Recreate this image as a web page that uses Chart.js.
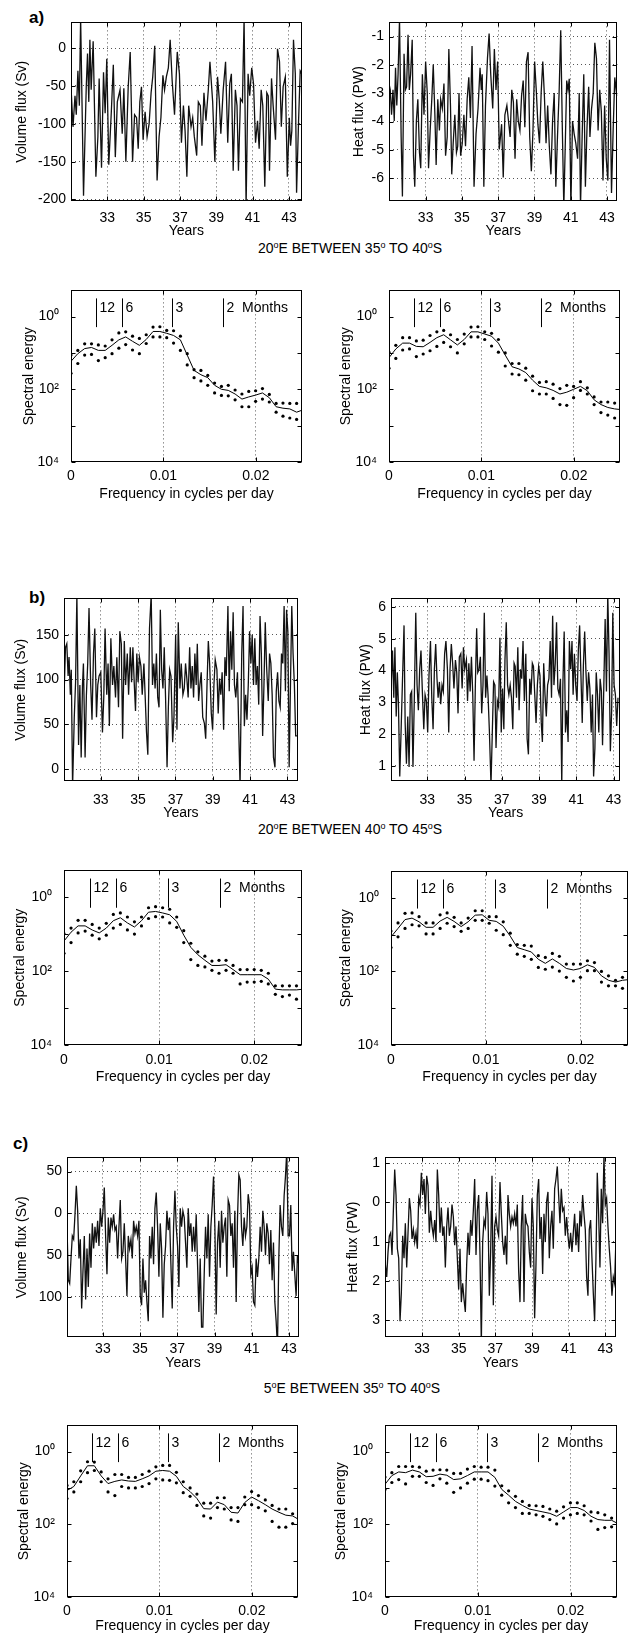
<!DOCTYPE html>
<html><head><meta charset="utf-8">
<script src="https://cdn.jsdelivr.net/npm/chart.js@4.4.1/dist/chart.umd.min.js"></script>
<style>
html,body{margin:0;padding:0;background:#fff;}
body{position:relative;width:632px;height:1635px;overflow:hidden;font-family:'Liberation Sans',Arial,Helvetica,sans-serif;color:#000;}
canvas{position:absolute;}
.tag{position:absolute;font-weight:bold;font-size:17px;line-height:20px;}
.ttl{position:absolute;font-size:14px;line-height:16px;white-space:nowrap;transform:translateX(-50%);}
.ttl sup{font-size:9px;line-height:0;vertical-align:5px;}
</style></head><body>
<div class="tag" style="left:29px;top:8px">a)</div>
<div class="ttl" style="left:350px;top:240px">20<sup>o</sup>E BETWEEN 35<sup>o</sup> TO 40<sup>o</sup>S</div>
<div class="tag" style="left:29px;top:588px">b)</div>
<div class="ttl" style="left:350px;top:821px">20<sup>o</sup>E BETWEEN 40<sup>o</sup> TO 45<sup>o</sup>S</div>
<div class="tag" style="left:13px;top:1134px">c)</div>
<div class="ttl" style="left:352px;top:1380px">5<sup>o</sup>E BETWEEN 35<sup>o</sup> TO 40<sup>o</sup>S</div>
<script>
// ================= DATA =================
const yearTicks = [33,35,37,39,41,43];
const yearLabels = ['33','35','37','39','41','43'];
const freqTicks = [0,0.01,0.02];
const freqLabels = ['0','0.01','0.02'];
const specTicks = [-4,-3,-2,-1,0];            // log10 of spectral energy
const specLabels = ['10⁴','','10²','','10⁰'];
const periodMonths = [12,6,3,2];
const periodLabels = ['12','6','3','2  Months'];
const freqs = [0,0.00074,0.00148,0.00222,0.00296,0.0037,0.00444,0.00518,0.00592,0.00666,0.0074,0.00814,0.00888,0.00962,0.01036,0.0111,0.01184,0.01258,0.01332,0.01406,0.0148,0.01554,0.01628,0.01702,0.01776,0.0185,0.01924,0.01998,0.02072,0.02146,0.0222,0.02294,0.02368,0.02442,0.02516];

// --- a) volume flux
const aVolTicks = [-200,-150,-100,-50,0];
const aVolTickLabels = ['-200','-150','-100','-50','0'];
const aVolYears = [31.00,31.11,31.22,31.29,31.38,31.46,31.53,31.69,31.84,31.91,31.98,32.04,32.11,32.22,32.37,32.48,32.55,32.68,32.79,32.88,32.97,33.08,33.22,33.33,33.44,33.55,33.70,33.82,33.91,34.02,34.15,34.26,34.39,34.50,34.61,34.70,34.79,34.88,34.97,35.08,35.19,35.30,35.41,35.50,35.61,35.74,35.85,35.95,36.06,36.15,36.25,36.36,36.46,36.57,36.70,36.85,36.97,37.08,37.19,37.28,37.38,37.48,37.61,37.70,37.79,37.92,38.01,38.12,38.21,38.32,38.43,38.56,38.65,38.80,38.92,39.07,39.16,39.25,39.38,39.51,39.63,39.74,39.83,39.93,40.05,40.14,40.22,40.33,40.44,40.53,40.64,40.75,40.84,40.95,41.05,41.16,41.27,41.36,41.47,41.56,41.67,41.78,41.86,41.93,42.04,42.13,42.26,42.37,42.48,42.58,42.68,42.80,42.91,43.02,43.09,43.16,43.25,43.35,43.42,43.53,43.62,43.71];
const aVolFlux = [-51,-104,-63,-88,-30,-76,40,-195,-51,-7,-71,11,-55,9,-170,-117,-40,-158,-32,-86,-14,-154,-84,-22,-144,-71,-55,-113,-53,-150,-51,-5,-150,-88,-92,-133,-71,-51,-121,-84,-117,-100,-59,-38,3,-175,-117,-92,-36,-55,-38,-26,11,-43,-88,-5,-34,-125,-76,-109,-170,-76,-104,-92,-117,-142,-71,-76,-129,-59,-96,-55,-18,-71,-150,-38,-67,-113,-55,-18,-125,-47,-34,-162,-55,-76,-162,-67,-71,40,-210,-34,-63,-26,-47,-125,-96,-133,-55,-76,-183,-59,-63,-162,-40,-76,-121,-1,-18,-104,-51,-38,-170,-92,-129,-109,11,-34,-191,-96,-30,-34];

// --- a) heat flux
const aHeatTicks = [-6,-5,-4,-3,-2,-1];
const aHeatTickLabels = ['-6','-5','-4','-3','-2','-1'];
const aHeatYears = [30.98,31.05,31.12,31.20,31.27,31.34,31.41,31.48,31.56,31.65,31.72,31.81,31.88,31.95,32.03,32.10,32.17,32.26,32.33,32.40,32.49,32.57,32.66,32.73,32.82,32.91,33.00,33.09,33.16,33.25,33.34,33.42,33.51,33.58,33.67,33.76,33.83,33.92,34.01,34.10,34.19,34.28,34.37,34.44,34.52,34.61,34.70,34.77,34.84,34.93,35.02,35.11,35.20,35.29,35.38,35.47,35.56,35.67,35.78,35.89,36.00,36.07,36.12,36.21,36.30,36.41,36.50,36.59,36.70,36.79,36.88,36.97,37.06,37.19,37.28,37.37,37.48,37.57,37.66,37.75,37.84,37.93,38.02,38.11,38.20,38.29,38.38,38.47,38.56,38.65,38.74,38.83,38.92,39.01,39.10,39.19,39.28,39.37,39.46,39.55,39.64,39.73,39.82,39.91,40.00,40.09,40.18,40.27,40.36,40.45,40.54,40.62,40.71,40.78,40.85,40.92,41.01,41.10,41.19,41.28,41.38,41.47,41.54,41.63,41.72,41.81,41.90,41.99,42.06,42.15,42.24,42.33,42.42,42.51,42.60,42.69,42.78,42.87,42.96,43.05,43.14,43.25,43.34,43.43,43.54];
const aHeatFlux = [-2.66,-2.88,-3.76,-2.88,-3.98,-2.10,-3.43,-2.33,-0.4,-4.54,-6.64,-1.61,-2.88,-2.77,-0.94,-2.88,-2.33,-1.11,-5.20,-6.30,-3.98,-3.21,-5.09,-5.64,-2.33,-3.76,-1.88,-2.99,-5.64,-4.31,-3.21,-1.99,-3.76,-5.53,-3.21,-4.31,-3.21,-3.54,-2.66,-5.20,-4.54,-1.44,-3.43,-5.86,-4.76,-3.76,-5.09,-4.87,-2.99,-5.20,-4.76,-3.76,-4.87,-3.21,-2.44,-3.87,-1.33,-6.30,-4.43,-3.54,-2.10,-2.88,-2.33,-6.30,-3.43,-1.77,-0.89,-2.33,-3.54,-1.44,-2.88,-1.88,-4.98,-4.09,-5.97,-3.76,-3.43,-3.98,-4.54,-2.88,-3.32,-5.31,-3.21,-3.98,-4.31,-3.10,-2.55,-4.20,-1.88,-1.55,-4.54,-5.75,-4.31,-1.88,-2.88,-4.09,-4.76,-2.99,-1.88,-3.10,-4.76,-3.43,-4.87,-5.86,-3.98,-2.99,-6.30,-4.54,-2.99,-0.78,-4.31,-7.0,-4.54,-2.55,-2.88,-2.49,-7.0,-3.98,-4.43,-4.76,-5.31,-2.99,-7.0,-4.54,-2.33,-6.30,-4.20,-2.77,-4.54,-3.54,-2.99,-1.22,-1.77,-4.31,-2.88,-3.65,-6.08,-3.43,-5.31,-6.08,-1.11,-6.52,-4.31,-2.44,-3.10];

// --- a) spectra (log10 energy)
const aVolUp  = [-1.06,-0.93,-0.75,-0.75,-0.78,-0.81,-0.64,-0.45,-0.42,-0.54,-0.60,-0.50,-0.29,-0.28,-0.38,-0.39,-0.54,-1.02,-1.46,-1.48,-1.62,-1.83,-1.92,-1.89,-2.02,-2.13,-2.06,-2.04,-1.98,-2.14,-2.39,-2.38,-2.39,-2.39,-2.43];
const aVolMid = [-1.23,-1.02,-0.88,-0.85,-0.93,-0.93,-0.79,-0.64,-0.56,-0.68,-0.79,-0.63,-0.41,-0.41,-0.46,-0.52,-0.64,-1.06,-1.48,-1.60,-1.68,-1.89,-2.00,-2.03,-2.13,-2.27,-2.21,-2.16,-2.10,-2.23,-2.48,-2.52,-2.54,-2.63,-2.56];
const aVolLo  = [-1.56,-1.29,-1.06,-1.04,-1.21,-1.13,-1.02,-0.87,-0.77,-0.92,-1.02,-0.74,-0.56,-0.56,-0.58,-0.73,-0.93,-1.33,-1.68,-1.77,-1.89,-2.10,-2.17,-2.18,-2.29,-2.48,-2.48,-2.33,-2.27,-2.35,-2.63,-2.74,-2.79,-2.83,-2.83];
const aHeatUp  = [-0.98,-0.79,-0.58,-0.58,-0.67,-0.65,-0.52,-0.42,-0.38,-0.50,-0.63,-0.48,-0.29,-0.28,-0.42,-0.46,-0.63,-1.00,-1.29,-1.29,-1.42,-1.64,-1.81,-1.79,-1.86,-1.98,-1.89,-1.92,-1.79,-1.96,-2.21,-2.35,-2.35,-2.38,-2.38];
const aHeatMid = [-1.13,-0.89,-0.73,-0.73,-0.82,-0.83,-0.71,-0.58,-0.50,-0.64,-0.78,-0.63,-0.42,-0.42,-0.48,-0.54,-0.73,-1.06,-1.38,-1.44,-1.54,-1.75,-1.92,-1.96,-2.03,-2.13,-2.08,-2.00,-1.92,-2.04,-2.29,-2.42,-2.50,-2.54,-2.56];
const aHeatLo  = [-1.42,-1.15,-0.92,-0.89,-1.10,-1.03,-0.94,-0.82,-0.71,-0.83,-1.00,-0.75,-0.56,-0.56,-0.63,-0.81,-0.98,-1.36,-1.58,-1.60,-1.75,-2.04,-2.13,-2.13,-2.25,-2.42,-2.44,-2.23,-2.03,-2.13,-2.42,-2.64,-2.71,-2.79,-2.82];

// --- b) volume flux
const bVolTicks = [0,50,100,150];
const bVolTickLabels = ['0','50','100','150'];
const bVolYears = [31.04,31.11,31.18,31.25,31.30,31.37,31.42,31.49,31.58,31.65,31.72,31.81,31.88,31.95,32.02,32.07,32.16,32.23,32.30,32.37,32.46,32.53,32.61,32.68,32.77,32.84,32.91,33.00,33.09,33.16,33.23,33.32,33.39,33.46,33.54,33.63,33.70,33.79,33.86,33.95,34.02,34.10,34.17,34.26,34.33,34.42,34.49,34.58,34.65,34.72,34.79,34.86,34.93,35.00,35.07,35.15,35.22,35.31,35.38,35.45,35.52,35.61,35.70,35.77,35.84,35.91,35.98,36.05,36.12,36.19,36.26,36.33,36.40,36.47,36.55,36.62,36.69,36.76,36.85,36.92,37.01,37.08,37.15,37.24,37.31,37.40,37.47,37.54,37.61,37.68,37.76,37.83,37.90,37.97,38.04,38.11,38.17,38.24,38.31,38.38,38.46,38.55,38.62,38.69,38.76,38.83,38.92,38.99,39.06,39.13,39.22,39.29,39.36,39.43,39.50,39.58,39.65,39.72,39.81,39.88,39.95,40.02,40.09,40.16,40.23,40.32,40.39,40.46,40.55,40.62,40.69,40.76,40.83,40.90,40.97,41.04,41.11,41.18,41.25,41.32,41.39,41.46,41.53,41.60,41.67,41.74,41.81,41.88,41.97,42.04,42.11,42.18,42.25,42.33,42.40,42.47,42.54,42.61,42.68,42.75,42.82,42.89,42.95,43.02,43.09,43.16,43.23,43.30,43.37,43.44,43.51,43.56];
const bVolFlux = [87,136,140,104,125,83,111,-20,58,97,195,27,94,13,94,118,13,83,118,180,94,55,129,157,58,94,104,108,41,80,157,83,118,48,146,94,115,80,125,69,154,140,34,143,94,129,83,136,97,136,97,65,129,97,125,115,83,118,80,41,16,157,195,94,118,90,129,80,69,178,111,90,136,80,2,69,111,104,30,58,150,44,164,90,118,83,90,118,101,80,136,90,115,80,129,94,140,76,94,108,58,51,34,94,143,118,62,44,94,122,111,62,101,83,108,44,125,104,182,87,154,111,175,94,80,108,44,-20,129,182,48,83,55,94,154,118,150,94,146,94,115,72,171,129,37,94,164,115,76,129,118,83,13,2,87,108,76,69,129,118,182,87,178,154,2,94,182,129,94,37,37,97];

// --- b) heat flux
const bHeatTicks = [1,2,3,4,5,6];
const bHeatTickLabels = ['1','2','3','4','5','6'];
const bHeatYears = [31.06,31.13,31.20,31.26,31.33,31.39,31.45,31.52,31.59,31.66,31.75,31.81,31.88,31.95,32.02,32.09,32.16,32.23,32.30,32.38,32.45,32.52,32.59,32.66,32.74,32.81,32.88,32.95,33.02,33.09,33.17,33.24,33.31,33.38,33.45,33.52,33.58,33.65,33.72,33.79,33.86,33.93,34.00,34.08,34.15,34.22,34.29,34.36,34.43,34.51,34.58,34.65,34.72,34.80,34.87,34.94,35.01,35.10,35.16,35.23,35.30,35.37,35.44,35.51,35.58,35.65,35.71,35.78,35.85,35.92,35.99,36.06,36.13,36.20,36.26,36.33,36.42,36.49,36.56,36.63,36.69,36.76,36.83,36.90,36.97,37.04,37.11,37.17,37.24,37.31,37.38,37.45,37.52,37.59,37.66,37.72,37.79,37.86,37.93,38.00,38.07,38.14,38.21,38.29,38.36,38.43,38.50,38.57,38.64,38.70,38.77,38.84,38.91,38.98,39.05,39.12,39.18,39.25,39.32,39.39,39.46,39.53,39.60,39.67,39.73,39.80,39.87,39.94,40.01,40.08,40.15,40.22,40.28,40.35,40.42,40.49,40.56,40.63,40.70,40.77,40.83,40.90,40.97,41.04,41.11,41.18,41.25,41.32,41.38,41.45,41.52,41.59,41.66,41.73,41.80,41.87,41.93,42.00,42.07,42.14,42.21,42.28,42.35,42.41,42.48,42.55,42.62,42.69,42.76,42.83,42.90,42.96,43.03,43.10,43.17,43.24];
const bHeatFlux = [3.54,4.63,3.14,4.73,2.55,3.94,2.94,0.66,2.05,3.54,5.42,2.35,1.06,2.55,0.96,3.24,3.34,0.96,3.04,5.82,3.54,2.75,4.04,4.63,3.24,2.15,3.24,3.04,2.05,3.84,4.93,3.14,2.15,4.04,4.83,3.74,3.14,3.64,2.94,3.54,3.34,4.53,4.93,4.04,2.05,4.04,4.83,4.23,3.43,4.33,3.94,2.65,4.43,4.53,3.43,4.73,4.04,4.33,3.04,4.23,3.34,4.43,3.24,1.16,3.54,5.33,3.94,4.04,4.43,2.65,3.54,5.82,3.14,3.84,3.24,2.15,0.4,2.05,3.64,3.54,1.56,3.04,2.85,5.03,2.05,3.43,2.15,4.33,5.52,3.54,3.24,3.54,3.14,2.15,4.23,4.13,3.14,4.73,2.75,4.04,3.74,4.93,3.04,4.53,1.85,1.36,3.74,3.24,4.23,4.13,3.24,2.35,3.54,4.13,3.84,2.35,1.75,4.23,3.24,2.55,3.54,3.74,4.93,3.14,5.72,3.54,4.23,5.52,3.43,3.24,3.74,0.4,3.54,5.23,2.05,2.75,1.75,4.93,4.04,4.93,3.24,4.53,3.54,3.04,4.63,5.42,3.84,2.35,4.13,5.23,3.94,3.04,3.94,3.43,2.05,3.24,0.66,1.56,3.94,3.24,2.05,3.74,3.34,1.65,3.54,5.62,3.34,6.4,4.53,1.46,2.75,5.82,3.54,3.24,2.25,3.14];

// --- b) spectra
const bVolUp  = [-0.99,-0.84,-0.63,-0.63,-0.74,-0.84,-0.71,-0.47,-0.43,-0.54,-0.67,-0.54,-0.29,-0.26,-0.29,-0.33,-0.54,-0.91,-1.25,-1.48,-1.60,-1.73,-1.71,-1.71,-1.85,-1.96,-1.96,-1.96,-1.98,-2.06,-2.40,-2.40,-2.40,-2.40,-2.30];
const bVolMid = [-1.19,-0.95,-0.78,-0.78,-0.89,-0.97,-0.84,-0.64,-0.56,-0.70,-0.81,-0.64,-0.41,-0.39,-0.43,-0.48,-0.66,-1.03,-1.36,-1.56,-1.71,-1.85,-1.85,-1.83,-1.96,-2.10,-2.10,-2.10,-2.10,-2.22,-2.49,-2.51,-2.51,-2.51,-2.49];
const bVolLo  = [-1.52,-1.23,-0.97,-0.92,-1.03,-1.13,-1.03,-0.84,-0.74,-0.89,-1.00,-0.78,-0.58,-0.53,-0.54,-0.70,-0.82,-1.23,-1.69,-1.85,-1.89,-1.98,-2.06,-1.98,-2.06,-2.35,-2.30,-2.30,-2.28,-2.35,-2.63,-2.69,-2.65,-2.76,-2.78];
const bHeatUp  = [-0.90,-0.68,-0.42,-0.41,-0.51,-0.68,-0.68,-0.46,-0.41,-0.53,-0.68,-0.55,-0.35,-0.35,-0.51,-0.51,-0.65,-0.96,-1.27,-1.29,-1.31,-1.57,-1.62,-1.51,-1.59,-1.80,-1.80,-1.80,-1.71,-1.76,-2.00,-2.12,-2.24,-2.16,-2.02];
const bHeatMid = [-1.06,-0.83,-0.59,-0.55,-0.65,-0.80,-0.80,-0.63,-0.53,-0.64,-0.78,-0.65,-0.47,-0.46,-0.61,-0.64,-0.77,-1.04,-1.35,-1.41,-1.47,-1.67,-1.78,-1.66,-1.78,-1.92,-1.96,-1.92,-1.82,-1.89,-2.12,-2.24,-2.29,-2.24,-2.22];
const bHeatLo  = [-1.35,-1.06,-0.83,-0.73,-0.76,-0.98,-0.98,-0.83,-0.69,-0.78,-0.91,-0.83,-0.61,-0.61,-0.69,-0.88,-1.00,-1.29,-1.53,-1.59,-1.67,-1.89,-1.94,-1.88,-1.99,-2.16,-2.26,-2.16,-1.98,-1.98,-2.29,-2.39,-2.39,-2.46,-2.51];

// --- c) volume flux (evenly sampled)
const cVolTicks = [-100,-50,0,50];
const cVolTickLabels = ['100','50','0','50'];
const cVolStart = 31.07, cVolStep = 0.0716;
const cVolFlux = [-16,-80,-84,-54,-27,-31,-1,33,3,-54,-31,-114,-69,-27,-103,-42,-88,-24,-65,-12,-42,-16,-35,-9,-39,6,-16,3,31,-27,-73,-5,-35,-5,-16,-1,-20,-16,-54,-16,16,-54,-46,-12,-54,-99,-27,-42,-31,-54,-9,-24,-16,-27,-9,-99,-110,-54,-95,-80,-106,-129,-27,-54,-16,-61,6,25,-16,-76,-12,-42,-125,-61,-39,3,-20,-5,-61,-114,-16,27,-16,-39,-88,6,-16,3,-5,-35,-65,6,-27,-12,-46,-16,-46,-1,-61,-118,-54,-136,-136,-73,-16,-54,-1,-76,-16,10,44,-16,-121,-35,-9,-65,3,-35,-16,-5,-76,16,10,-27,-12,-65,3,-106,-5,46,40,-16,-39,-5,-27,-16,23,10,-73,-65,-106,-110,-54,-76,-54,-16,-46,3,-16,-50,-12,-24,-61,-20,-80,-35,-106,-129,-160,-54,10,-16,-27,21,44,75,-27,-27,10,-69,-46,-73,-99,-50,-61];

// --- c) heat flux (evenly sampled)
const cHeatTicks = [-3,-2,-1,0,1];
const cHeatTickLabels = ['3','2','1','0','1'];
const cHeatStart = 31.0, cHeatStep = 0.0727;
const cHeatFlux = [-1.58,-1.90,-1.26,-0.85,-0.77,-1.34,-0.21,0.84,0.19,-1.18,-1.42,-3.03,-2.30,-0.85,-1.42,-0.53,-1.66,-0.77,0.11,-0.21,-0.93,-0.69,-1.01,-0.77,-1.18,0.11,-0.05,0.76,0.19,0.60,-0.29,0.68,0.43,-0.77,-0.21,-0.61,-0.85,-0.45,-1.01,0.84,0.19,-0.77,-0.13,-0.85,-0.61,-1.66,-0.61,-0.13,-0.85,-0.61,-0.05,-0.37,-1.09,-0.61,-1.42,-2.22,-1.18,-2.54,-2.06,-2.46,-2.79,-1.58,-0.77,-1.34,-0.45,-0.85,-0.21,0.60,-1.34,-0.21,0.19,-1.34,-3.6,-1.01,-0.45,-0.61,0.27,-0.29,-2.38,-1.26,0.68,-2.62,-0.61,-0.37,-0.69,-0.85,0.52,-0.29,-1.01,-1.34,-0.85,-1.58,0.19,-0.29,-0.61,-0.37,-0.53,-0.29,-0.61,-0.05,-1.74,-2.54,-0.61,0.19,-2.54,-0.29,-0.53,-0.61,-1.26,-1.66,0.11,-0.61,-2.95,-1.58,0.19,0.60,-0.93,-0.37,-1.82,-0.29,-1.01,0.03,0.27,-1.42,-0.61,-0.21,-1.18,0.35,0.60,0.92,0.19,-0.53,0.35,-0.21,-0.13,-0.85,-0.37,-0.85,-1.18,-0.77,-1.26,-0.77,-0.29,-1.09,-0.53,-1.26,-0.21,-0.61,0.19,-0.29,-0.69,-1.90,-2.38,-0.69,-0.45,-1.42,-2.30,-3.03,-1.42,0.76,-0.29,-1.66,0.35,-0.53,1.2,-0.05,0.11,-0.61,-1.18,-1.66,-2.38,-1.90,-2.06,-0.93];

// --- c) spectra
const cVolUp  = [-0.93,-0.83,-0.53,-0.28,-0.29,-0.56,-0.75,-0.63,-0.63,-0.71,-0.71,-0.63,-0.54,-0.42,-0.38,-0.38,-0.57,-0.83,-1.00,-1.17,-1.42,-1.42,-1.27,-1.27,-1.54,-1.54,-1.25,-1.10,-1.21,-1.33,-1.48,-1.58,-1.58,-1.71,-1.79];
const cVolMid = [-1.07,-0.96,-0.67,-0.39,-0.39,-0.67,-0.88,-0.82,-0.78,-0.81,-0.82,-0.75,-0.67,-0.54,-0.52,-0.54,-0.68,-0.96,-1.10,-1.29,-1.57,-1.58,-1.39,-1.46,-1.67,-1.69,-1.40,-1.25,-1.35,-1.46,-1.58,-1.67,-1.75,-1.77,-1.88];
const cVolLo  = [-1.29,-1.11,-0.83,-0.58,-0.52,-0.83,-1.11,-1.21,-0.96,-1.00,-1.00,-0.96,-0.88,-0.75,-0.78,-0.79,-0.86,-1.13,-1.23,-1.48,-1.77,-1.83,-1.54,-1.58,-1.88,-1.92,-1.46,-1.46,-1.54,-1.63,-1.92,-2.08,-2.08,-1.98,-2.04];
const cHeatUp  = [-0.70,-0.58,-0.41,-0.41,-0.41,-0.43,-0.54,-0.51,-0.50,-0.51,-0.60,-0.60,-0.48,-0.41,-0.43,-0.43,-0.51,-0.94,-1.08,-1.23,-1.37,-1.48,-1.49,-1.51,-1.58,-1.64,-1.52,-1.41,-1.41,-1.49,-1.66,-1.68,-1.74,-1.83,-1.85];
const cHeatMid = [-0.90,-0.66,-0.56,-0.58,-0.51,-0.56,-0.69,-0.68,-0.62,-0.65,-0.77,-0.75,-0.66,-0.56,-0.56,-0.56,-0.71,-1.04,-1.20,-1.37,-1.48,-1.58,-1.62,-1.66,-1.70,-1.78,-1.66,-1.54,-1.54,-1.62,-1.78,-1.87,-1.89,-1.89,-1.99];
const cHeatLo  = [-1.04,-0.85,-0.77,-0.89,-0.68,-0.68,-0.85,-0.93,-0.75,-0.87,-1.12,-1.00,-0.87,-0.76,-0.76,-0.80,-0.95,-1.20,-1.41,-1.54,-1.70,-1.70,-1.74,-1.78,-1.87,-1.99,-1.83,-1.74,-1.70,-1.74,-1.91,-2.14,-2.09,-2.07,-2.22];

const cVolYears = cVolFlux.map((_, i) => +(cVolStart + i * cVolStep).toFixed(3));
const cHeatYears = cHeatFlux.map((_, i) => +(cHeatStart + i * cHeatStep).toFixed(3));

// ================= RENDERING =================
const FAMILY = "'Liberation Sans', Arial, Helvetica, sans-serif";
Chart.defaults.font.family = FAMILY;
Chart.defaults.font.size = 14;
Chart.defaults.color = '#000';

const framePlugin = {
  id: 'frame',
  afterDraw(chart) {
    const {ctx, chartArea: a, scales: {x, y}} = chart;
    ctx.save();
    ctx.strokeStyle = '#000';
    ctx.lineWidth = 1;
    const l = Math.round(a.left) + 0.5, t = Math.round(a.top) + 0.5;
    const r = Math.round(a.right) - 0.5, b = Math.round(a.bottom) - 0.5;
    ctx.strokeRect(l, t, r - l, b - t);
    const tl = 4;
    ctx.beginPath();
    x.ticks.forEach(tk => {
      const px = Math.round(x.getPixelForValue(tk.value)) + 0.5;
      ctx.moveTo(px, b); ctx.lineTo(px, b - tl);
      ctx.moveTo(px, t); ctx.lineTo(px, t + tl);
    });
    y.ticks.forEach(tk => {
      const py = Math.round(y.getPixelForValue(tk.value)) + 0.5;
      ctx.moveTo(l, py); ctx.lineTo(l + tl, py);
      ctx.moveTo(r, py); ctx.lineTo(r - tl, py);
    });
    ctx.stroke();
    ctx.restore();
  }
};

const periodPlugin = {
  id: 'periods',
  afterDraw(chart, args, opts) {
    if (!opts || !opts.show) return;
    const {ctx, scales: {x, y}} = chart;
    ctx.save();
    ctx.strokeStyle = '#000';
    ctx.lineWidth = 1;
    ctx.fillStyle = '#000';
    ctx.font = '14px ' + FAMILY;
    ctx.textBaseline = 'middle';
    ctx.textAlign = 'left';
    periodMonths.forEach((m, i) => {
      const f = 12 / (365 * m);
      const px = Math.round(x.getPixelForValue(f)) + 0.5;
      ctx.beginPath();
      ctx.moveTo(px, y.getPixelForValue(opts.top));
      ctx.lineTo(px, y.getPixelForValue(opts.bottom));
      ctx.stroke();
      ctx.fillText(periodLabels[i], px + 3, y.getPixelForValue(opts.textAt));
    });
    ctx.restore();
  }
};

function pts(xs, ys) { return xs.map((v, i) => ({x: v, y: ys[i]})); }

function axis(min, max, ticks, labels, gridOn, pad, fitFn, title) {
  return {
    type: 'linear', min, max,
    afterBuildTicks: s => { s.ticks = ticks.map(v => ({value: v})); },
    afterFit: fitFn,
    ticks: {autoSkip: false, maxRotation: 0, padding: pad, color: '#000',
            callback: (v, i) => labels[i]},
    grid: {display: gridOn, drawTicks: false, color: '#555', lineWidth: 1},
    border: {display: false, dash: [1, 3]},
    title: {display: true, text: title, color: '#000', padding: 0}
  };
}

function makeChart(p) {
  const yW = Math.round(p.yGap + 8.4), xH = Math.round(p.xTitleGap + 8.4);
  const PT = 3, PR = 3;
  const w = (p.R - p.L) + yW + PR, h = (p.B - p.T) + PT + xH;
  const c = document.createElement('canvas');
  c.width = w; c.height = h;
  c.style.left = (p.L - yW) + 'px'; c.style.top = (p.T - PT) + 'px';
  c.style.width = w + 'px'; c.style.height = h + 'px';
  document.body.appendChild(c);

  const spec = p.kind === 'sp';
  let datasets;
  if (spec) {
    datasets = [
      {data: pts(freqs, p.mid), borderColor: '#000', borderWidth: 1, pointRadius: 0, tension: 0},
      {data: pts(freqs, p.up), showLine: false, pointRadius: 1.6, pointBorderWidth: 0, pointBackgroundColor: '#000'},
      {data: pts(freqs, p.lo), showLine: false, pointRadius: 1.6, pointBorderWidth: 0, pointBackgroundColor: '#000'}
    ];
  } else {
    datasets = [{data: pts(p.xs, p.ys), borderColor: '#111', borderWidth: 1.3, pointRadius: 0, tension: 0}];
  }
  const xAxis = spec
    ? axis(0, 0.025, freqTicks, freqLabels, true, p.xTickGap - 8.4, s => { s.height = xH; }, 'Frequency in cycles per day')
    : axis(p.xmin, p.xmax, yearTicks, yearLabels, true, p.xTickGap - 8.4, s => { s.height = xH; }, 'Years');
  const yAxis = spec
    ? axis(-4, 0.72, specTicks, specLabels, false, 12, s => { s.width = yW; }, 'Spectral energy')
    : axis(p.ymin, p.ymax, p.yTicks, p.yLabels, true, 5, s => { s.width = yW; }, p.yTitle);

  new Chart(c, {
    type: 'line',
    data: {datasets},
    options: {
      responsive: false, animation: false, events: [],
      layout: {padding: {top: PT, right: PR, left: 0, bottom: 0}},
      plugins: {legend: {display: false}, tooltip: {enabled: false},
                periods: {show: spec, top: 0.5, bottom: -0.29, textAt: 0.23}},
      scales: {x: xAxis, y: yAxis}
    },
    plugins: [framePlugin, periodPlugin]
  });
}

const panels = [
  {kind:'ts', L:71, T:12, R:303, B:201, yGap:49, xTickGap:17.5, xTitleGap:31, xs:aVolYears, ys:aVolFlux, xmin:31, xmax:43.7, ymin:-202, ymax:34, yTicks:aVolTicks, yLabels:aVolTickLabels, yTitle:'Volume flux (Sv)'},
  {kind:'ts', L:389, T:12, R:621, B:201, yGap:30, xTickGap:17.5, xTitleGap:31, xs:aHeatYears, ys:aHeatFlux, xmin:30.98, xmax:43.58, ymin:-6.8, ymax:-0.5, yTicks:aHeatTicks, yLabels:aHeatTickLabels, yTitle:'Heat flux (PW)'},
  {kind:'sp', L:71, T:273, R:303, B:462, yGap:42, xTickGap:14.5, xTitleGap:33, up:aVolUp, mid:aVolMid, lo:aVolLo},
  {kind:'sp', L:389, T:273, R:621, B:462, yGap:43, xTickGap:14.5, xTitleGap:33, up:aHeatUp, mid:aHeatMid, lo:aHeatLo},
  {kind:'ts', L:64, T:588, R:303, B:781, yGap:43, xTickGap:19, xTitleGap:33, xs:bVolYears, ys:bVolFlux, xmin:31.03, xmax:43.56, ymin:-13.3, ymax:190.6, yTicks:bVolTicks, yLabels:bVolTickLabels, yTitle:'Volume flux (Sv)'},
  {kind:'ts', L:391, T:588, R:629, B:781, yGap:25, xTickGap:19, xTitleGap:33, xs:bHeatYears, ys:bHeatFlux, xmin:31.05, xmax:43.35, ymin:0.52, ymax:6.27, yTicks:bHeatTicks, yLabels:bHeatTickLabels, yTitle:'Heat flux (PW)'},
  {kind:'sp', L:64, T:853, R:303, B:1045, yGap:44, xTickGap:15, xTitleGap:33, up:bVolUp, mid:bVolMid, lo:bVolLo},
  {kind:'sp', L:391, T:854, R:629, B:1045, yGap:45, xTickGap:15, xTitleGap:33, up:bHeatUp, mid:bHeatMid, lo:bHeatLo},
  {kind:'ts', L:67, T:1147, R:299, B:1337, yGap:45, xTickGap:12.5, xTitleGap:27, xs:cVolYears, ys:cVolFlux, xmin:31.07, xmax:43.54, ymin:-148, ymax:67, yTicks:cVolTicks, yLabels:cVolTickLabels, yTitle:'Volume flux (Sv)'},
  {kind:'ts', L:385, T:1147, R:616, B:1337, yGap:32, xTickGap:12.5, xTitleGap:27, xs:cHeatYears, ys:cHeatFlux, xmin:30.98, xmax:43.58, ymin:-3.43, ymax:1.15, yTicks:cHeatTicks, yLabels:cHeatTickLabels, yTitle:'Heat flux (PW)'},
  {kind:'sp', L:67, T:1408, R:299, B:1597, yGap:43, xTickGap:14, xTitleGap:30, up:cVolUp, mid:cVolMid, lo:cVolLo},
  {kind:'sp', L:385, T:1408, R:618, B:1597, yGap:44, xTickGap:14, xTitleGap:30, up:cHeatUp, mid:cHeatMid, lo:cHeatLo}
];
panels.forEach(makeChart);
</script>
</body></html>
